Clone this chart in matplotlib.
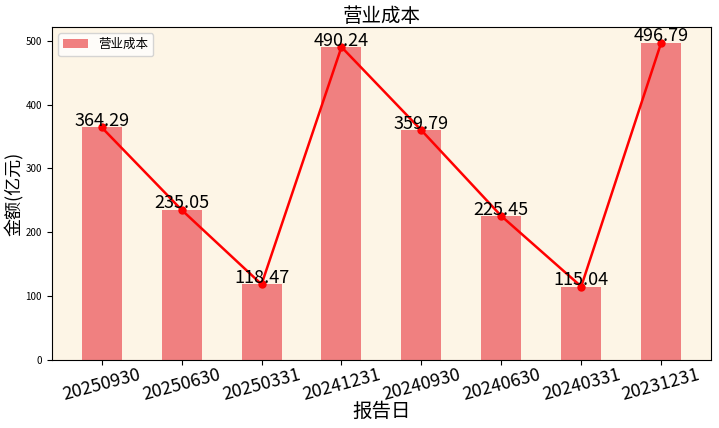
import matplotlib
matplotlib.use("Agg")
import matplotlib.pyplot as plt

plt.rcParams['font.family'] = ['Noto Sans CJK SC', 'DejaVu Sans']
plt.rcParams['axes.unicode_minus'] = False

dates = ['20250930', '20250630', '20250331', '20241231',
         '20240930', '20240630', '20240331', '20231231']
values = [364.29, 235.05, 118.47, 490.24, 359.79, 225.45, 115.04, 496.79]

fig, ax = plt.subplots(figsize=(7.19, 4.28), dpi=100)
fig.subplots_adjust(left=0.072, right=0.989, top=0.937, bottom=0.159)
ax.set_facecolor('#FDF5E6')

x = range(len(dates))
ax.bar(x, values, width=0.5, color='lightcoral', label='营业成本')
ax.plot(x, values, color='red', marker='o', markersize=5, linewidth=1.8)

for i, v in enumerate(values):
    ax.text(i, v - 4, f'{v:.2f}', ha='center', va='bottom', fontsize=13)

ax.set_xticks(list(x))
ax.set_xticklabels(dates, rotation=15, fontsize=13)
ax.tick_params(axis='x', pad=1)
ax.tick_params(axis='y', labelsize=7)
ax.set_title('营业成本', fontsize=14, pad=2)
ax.set_xlabel('报告日', fontsize=14, va='center')
ax.xaxis.set_label_coords(0.5, -0.155)
ax.set_ylabel('金额(亿元)', fontsize=13, va='center')
ax.yaxis.set_label_coords(-0.057, 0.5)
ax.legend(loc='upper left', fontsize=9)

fig.savefig('out.png', dpi=100)
